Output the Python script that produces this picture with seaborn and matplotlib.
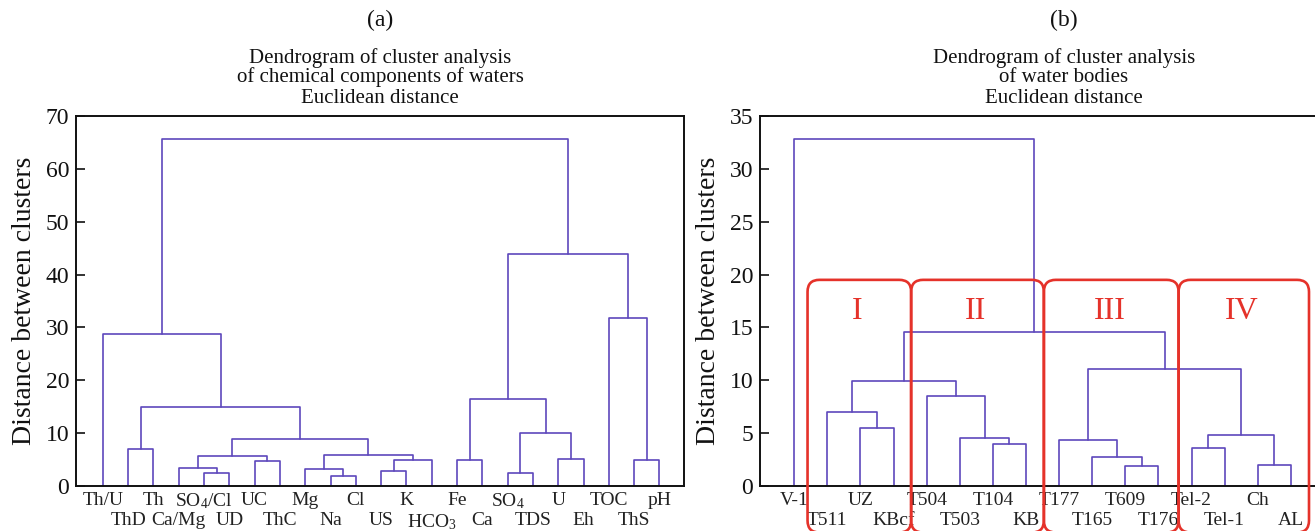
import matplotlib
matplotlib.use("Agg")
import matplotlib.pyplot as plt
from matplotlib.patches import FancyBboxPatch
import seaborn as sns
import pandas as pd

# ---------------- data ----------------
# panel (a): chemical components of waters
leaves_a = ["Th/U", "ThD", "Th", "Ca/Mg", "SO$_4$/Cl", "UD", "UC", "ThC", "Mg", "Na",
            "Cl", "US", "K", "HCO$_3$", "Fe", "Ca", "SO$_4$", "TDS", "U", "Eh",
            "TOC", "ThS", "pH"]
# merges: (child1, child2, height); ids >= len(leaves) refer to earlier merges
merge_left_a = [1, 4, 3, 6, 25, 9, 8, 11, 30, 29, 27, 23, 0, 14, 16, 18, 37, 36, 21, 20, 40, 35]
merge_right_a = [2, 5, 24, 7, 26, 10, 28, 12, 13, 31, 32, 33, 34, 15, 17, 19, 38, 39, 22, 41, 42, 43]
merge_height_a = [7.0, 2.5, 3.5, 4.7, 5.7, 1.8, 3.3, 2.8, 4.9, 5.8, 8.8, 15.0, 28.7,
                  4.9, 2.4, 5.1, 10.0, 16.4, 4.9, 31.8, 43.8, 65.7]

# panel (b): water bodies
leaves_b = ["V-1", "T511", "UZ", "KBcf", "T504", "T503", "T104", "KB", "T177", "T165",
            "T609", "T176", "Tel-2", "Tel-1", "Ch", "AL"]
merge_left_b = [2, 1, 6, 5, 4, 17, 10, 9, 8, 12, 14, 25, 24, 21, 0]
merge_right_b = [3, 16, 7, 18, 19, 20, 11, 22, 23, 13, 15, 26, 27, 28, 29]
merge_height_b = [5.45, 7.0, 3.95, 4.5, 8.5, 9.97, 1.85, 2.75, 4.38, 3.63, 1.95, 4.84,
                  11.06, 14.55, 32.8]

# cluster groups in panel (b): bounds in leaf units
group_names = ["I", "II", "III", "IV"]
group_lo = [0.40, 3.53, 7.54, 11.61]
group_hi = [3.53, 7.54, 11.61, 15.55]

# ---------------- style ----------------
sns.set_theme(style="white")
plt.rcParams["font.family"] = ["Liberation Serif", "DejaVu Serif"]
plt.rcParams["mathtext.fontset"] = "custom"
plt.rcParams["mathtext.rm"] = "Liberation Serif"
plt.rcParams["mathtext.it"] = "Liberation Serif:italic"

LINE = "#5e48bc"
RED = "#e5322a"
INK = "#111111"

W, H = 1315, 531
fig = plt.figure(figsize=(W / 100, H / 100), dpi=100)


def px_axes(l, t, w, h):
    return fig.add_axes([l / W, (H - t - h) / H, w / W, h / H])


def draw_dendro(ax, leaves, left, right, heights):
    n = len(leaves)
    xpos = {i: float(i) for i in range(n)}
    ypos = {i: 0.0 for i in range(n)}
    for k, (a, b, h) in enumerate(zip(left, right, heights)):
        xa, xb = xpos[a], xpos[b]
        df = pd.DataFrame({"x": [xa, xa, xb, xb], "y": [ypos[a], h, h, ypos[b]]})
        sns.lineplot(data=df, x="x", y="y", sort=False, estimator=None, color=LINE,
                     lw=1.2, ax=ax, legend=False)
        xpos[n + k] = (xa + xb) / 2
        ypos[n + k] = h
    even = list(range(0, n, 2))
    odd = list(range(1, n, 2))
    ax.set_xticks(even, [leaves[i] for i in even])
    ax.set_xticks(odd, [leaves[i] for i in odd], minor=True)


def style_ax(ax, ymax, ystep):
    ax.set_ylim(0, ymax)
    ax.set_yticks(range(0, ymax + 1, ystep))
    ax.tick_params(axis="y", direction="in", length=6.5, width=1.2, pad=5,
                   labelsize=17, colors=INK, left=True)
    ax.tick_params(axis="x", which="major", length=0, pad=4, labelsize=14, colors="#222222")
    ax.tick_params(axis="x", which="minor", length=0, pad=18.8, labelsize=14, colors="#222222")
    for s in ax.spines.values():
        s.set_color(INK)
        s.set_linewidth(1.4)
    ax.set_xlabel("")
    ax.set_ylabel("Distance between clusters", fontsize=20, color=INK, labelpad=6)


def titles(ax, tag, lines):
    ax.text(0.5, 1.258, tag, transform=ax.transAxes, ha="center", va="center",
            fontsize=17, color=INK)
    ys = [1.157, 1.104, 1.048]
    for y, t in zip(ys, lines):
        ax.text(0.5, y, t, transform=ax.transAxes, ha="center", va="center",
                fontsize=15, color=INK)


# ---- panel (a)
axa = px_axes(76, 116, 608, 370)
draw_dendro(axa, leaves_a, merge_left_a, merge_right_a, merge_height_a)
axa.set_xlim(-1.06, 22.97)
style_ax(axa, 70, 10)
titles(axa, "(a)", ["Dendrogram of cluster analysis",
                    "of chemical components of waters",
                    "Euclidean distance"])

# ---- panel (b)
axb = px_axes(760, 116, 608, 370)
draw_dendro(axb, leaves_b, merge_left_b, merge_right_b, merge_height_b)
px_per_leaf = 33.1
axb.set_xlim(-34.3 / px_per_leaf, -34.3 / px_per_leaf + 608 / px_per_leaf)
style_ax(axb, 35, 5)
titles(axb, "(b)", ["Dendrogram of cluster analysis",
                    "of water bodies",
                    "Euclidean distance"])

# red group boxes
y_scale = 370 / 35.0
asp = px_per_leaf / y_scale
for name, lo, hi in zip(group_names, group_lo, group_hi):
    box = FancyBboxPatch((lo, -4.4), hi - lo, 19.5 + 4.4,
                         boxstyle="round,pad=0,rounding_size=0.36",
                         mutation_aspect=asp, fill=False, ec=RED, lw=1.9,
                         clip_on=False, zorder=5)
    axb.add_patch(box)
    axb.text((lo + hi) / 2 - 0.05, 16.5, name, ha="center", va="center",
             fontsize=23, color=RED, zorder=6)

fig.savefig("out.png", dpi=100)
